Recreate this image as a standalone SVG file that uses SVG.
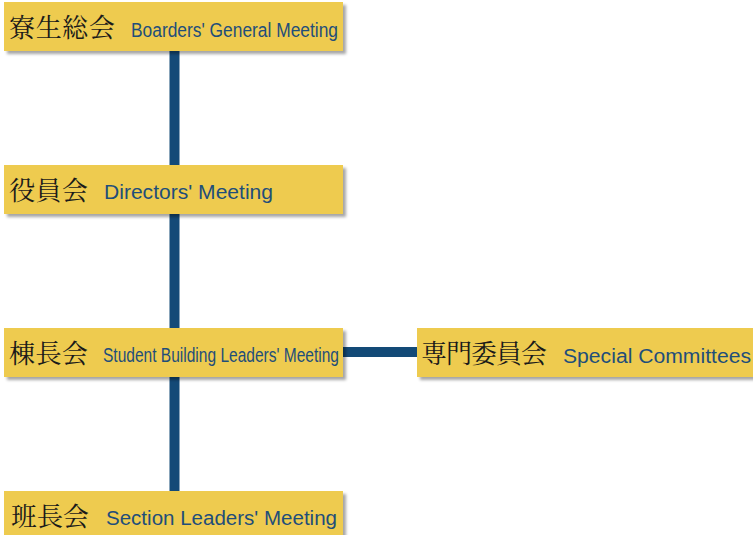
<svg xmlns="http://www.w3.org/2000/svg" width="753" height="535" viewBox="0 0 753 535">
  <style>
    .box { fill: #EECB50; filter: url(#shadow); }
    .jp { font-family: "Noto Serif CJK JP", "Noto Sans CJK JP", serif; font-size: 26px; fill: #1a1a1a; }
    .en { font-family: "Liberation Sans", Arial, sans-serif; font-size: 20px; fill: #1F4E7A; }
    .link { stroke: #134A77; stroke-width: 10; fill: none; }
  </style>
  <defs>
    <filter id="shadow" x="-5%" y="-20%" width="115%" height="150%">
      <feDropShadow dx="3" dy="3" stdDeviation="1.5" flood-color="#000" flood-opacity="0.35"/>
    </filter>
  </defs>
  <rect width="753" height="535" fill="#fff"/>

  <!-- connectors -->
  <g id="connectors">
    <line class="link" x1="174.5" y1="50" x2="174.5" y2="492"/>
    <line class="link" x1="342" y1="352" x2="418" y2="352"/>
  </g>

  <g id="boarders-general-meeting">
    <rect class="box" x="4" y="2" width="339" height="49"/>
    <text class="jp" x="9" y="37" textLength="106" lengthAdjust="spacing">寮生総会</text>
    <text class="en" x="131" y="37" textLength="207" lengthAdjust="spacingAndGlyphs">Boarders' General Meeting</text>
  </g>

  <g id="directors-meeting">
    <rect class="box" x="4" y="165" width="339" height="49"/>
    <text class="jp" x="9" y="200" textLength="79" lengthAdjust="spacing">役員会</text>
    <text class="en" x="104" y="199" textLength="169" lengthAdjust="spacingAndGlyphs">Directors' Meeting</text>
  </g>

  <g id="student-building-leaders-meeting">
    <rect class="box" x="4" y="328" width="339" height="49"/>
    <text class="jp" x="9" y="363" textLength="79" lengthAdjust="spacing">棟長会</text>
    <text class="en" x="103" y="362" textLength="236" lengthAdjust="spacingAndGlyphs">Student Building Leaders' Meeting</text>
  </g>

  <g id="special-committees">
    <rect class="box" x="417" y="328" width="340" height="49"/>
    <text class="jp" x="421" y="363" textLength="126" lengthAdjust="spacing">専門委員会</text>
    <text class="en" x="563" y="363" textLength="188" lengthAdjust="spacingAndGlyphs">Special Committees</text>
  </g>

  <g id="section-leaders-meeting">
    <rect class="box" x="4" y="491" width="339" height="49"/>
    <text class="jp" x="11" y="526" textLength="78" lengthAdjust="spacing">班長会</text>
    <text class="en" x="106" y="525" textLength="231" lengthAdjust="spacingAndGlyphs">Section Leaders' Meeting</text>
  </g>
</svg>
